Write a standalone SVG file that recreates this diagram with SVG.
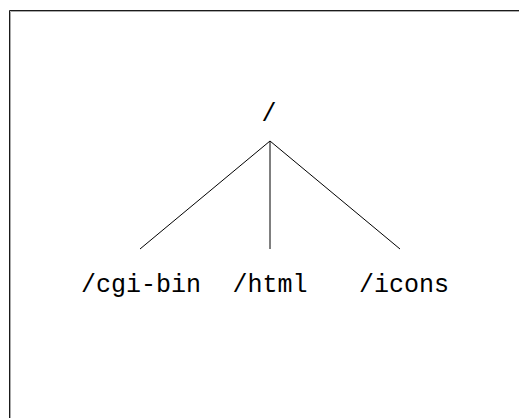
<svg xmlns="http://www.w3.org/2000/svg" width="519" height="418" viewBox="0 0 519 418">
  <style>
    .lbl { font-family: "Liberation Mono", "Courier New", monospace; font-size: 25px; fill: #000; text-anchor: middle; }
    .edge { stroke: #000; stroke-width: 1; fill: none; }
  </style>
  <rect x="0" y="0" width="519" height="418" fill="#fff"/>
  <!-- frame (open on the right and bottom), dark line with a soft grey inner edge -->
  <path d="M9.5,418 V10.5 H519" fill="none" stroke="#1a1a1a" stroke-width="1"/>
  <path d="M10.5,418 V11.5 H519" fill="none" stroke="#aaa" stroke-width="1"/>
  <g id="edges">
    <line class="edge" x1="270" y1="141" x2="140" y2="249"/>
    <line class="edge" x1="270" y1="141" x2="270" y2="249"/>
    <line class="edge" x1="270" y1="141" x2="400" y2="249"/>
  </g>
  <g id="root"><text class="lbl" x="269" y="121">/</text></g>
  <g id="cgi-bin"><text class="lbl" x="141" y="292">/cgi-bin</text></g>
  <g id="html"><text class="lbl" x="270" y="292">/html</text></g>
  <g id="icons"><text class="lbl" x="404" y="292">/icons</text></g>
</svg>
